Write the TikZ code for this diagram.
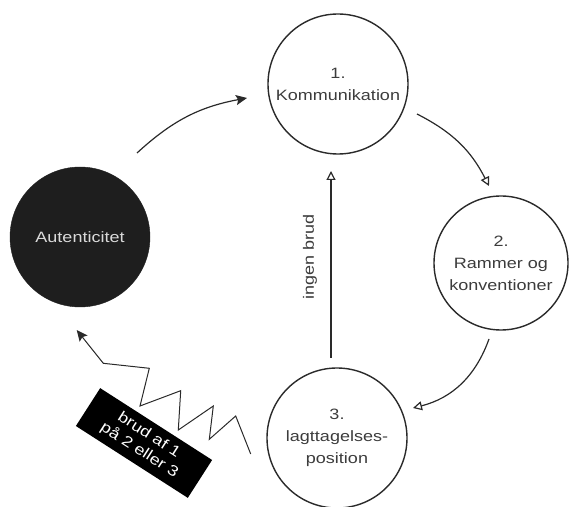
\documentclass[tikz,border=0pt]{standalone}
\usepackage{fontspec}
\setmainfont[FakeStretch=1.2]{Liberation Sans}
\usetikzlibrary{arrows.meta}
\definecolor{txt}{HTML}{3C3C3C}
\definecolor{ink}{HTML}{2A2A2A}
\definecolor{blk}{HTML}{1E1E1E}
\definecolor{lighttxt}{HTML}{DADADA}
\begin{document}
\begin{tikzpicture}[x=1pt,y=1pt,
  circ/.style={circle, draw=ink, line width=1.4pt, inner sep=0pt, align=center, text=txt, font=\fontsize{15}{22}\selectfont},
  conn/.style={draw=ink, line width=1.2pt},
  opentip/.style={-{Triangle[open,length=9pt,width=9pt,line width=1.2pt]}},
  filltip/.style={-{Stealth[length=11pt,width=10pt,inset=2pt]}},
  lbl/.style={text=txt, font=\fontsize{15}{18}\selectfont, inner sep=0pt},
]
\useasboundingbox (0,0) rectangle (570,506);
\node[circ, minimum size=140pt] (c1) at (338,422) {1.\\Kommunikation};
\node[circ, minimum size=134pt] (c2) at (501,243) {2.\\Rammer og\\konventioner};
\node[circ, minimum size=140pt] (c3) at (337,68) {3.\\lagttagelses-\\position};
\node[circle, fill=blk, draw=blk, minimum size=140pt, inner sep=0pt, text=lighttxt, font=\fontsize{15}{18}\selectfont] (auth) at (80,269) {Autenticitet};

\coordinate (aS) at (137,353); \coordinate (aE) at (247,408);
\draw[conn, filltip] (aS) to[bend left=16] (aE);
\coordinate (bS) at (417,392); \coordinate (bE) at (489,320);
\draw[conn, opentip] (bS) to[bend left=18] (bE);
\coordinate (cS) at (489,167); \coordinate (cE) at (413,98);
\draw[conn, opentip] (cS) to[bend left=28] (cE);
\coordinate (dS) at (331,148); \coordinate (dE) at (331,335);
\draw[conn, opentip] (dS) -- (dE);
\node[lbl, rotate=90] (lb) at (310,249) {ingen brud};

\coordinate (zS) at (250.7,52); \coordinate (zE) at (76.7,176);
\draw[conn, line width=1pt, filltip] (zS) -- (235.7,90) -- (209.3,66.7) -- (213.3,100) -- (178.3,76) -- (180.7,115.3) -- (140,100) -- (149.3,137.7) -- (103.3,142.7) -- (zE);
\node[fill=black, rotate=-32.7, minimum width=133pt, minimum height=45pt, inner sep=0pt, text=white, align=center, font=\fontsize{15}{18}\selectfont] (brk) at (144,63) {brud af 1\\på 2 eller 3};
\end{tikzpicture}
\end{document}
